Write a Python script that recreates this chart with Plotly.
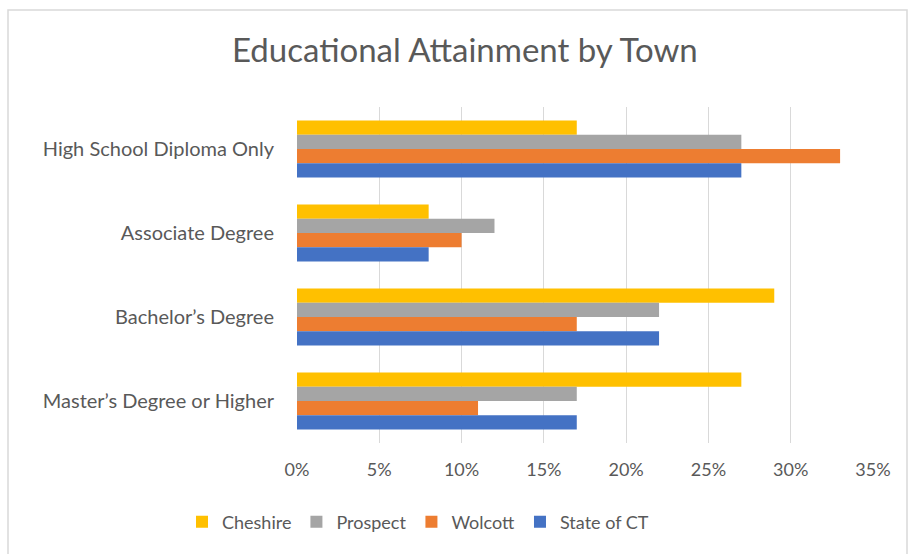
import plotly.graph_objects as go

# Educational attainment shares (percent) by town
categories = ["High School Diploma Only", "Associate Degree", "Bachelor\u2019s Degree", "Master\u2019s Degree or Higher"]
series_names = ["Cheshire", "Prospect", "Wolcott", "State of CT"]
cheshire = [17, 8, 29, 27]
prospect = [27, 12, 22, 17]
wolcott = [33, 10, 17, 11]
state_ct = [27, 8, 22, 17]
colors = ["#FFC000", "#A5A5A5", "#ED7D31", "#4472C4"]
tick_vals = [0, 5, 10, 15, 20, 25, 30, 35]
tick_text = ["0%", "5%", "10%", "15%", "20%", "25%", "30%", "35%"]

FONT = "Lato, 'Open Sans', sans-serif"
TEXT_COLOR = "#595959"

fig = go.Figure()
for name, vals, col in zip(series_names, [cheshire, prospect, wolcott, state_ct], colors):
    fig.add_trace(go.Bar(
        y=categories, x=[v / 100 for v in vals], name=name, orientation="h",
        marker=dict(color=col, line=dict(width=0)),
        hovertemplate="%{y}: %{x:.0%}<extra>" + name + "</extra>",
    ))

fig.update_layout(
    width=908, height=554,
    margin=dict(l=297, r=35, t=107, b=111),
    paper_bgcolor="white", plot_bgcolor="white",
    barmode="group", bargap=0.32, bargroupgap=0,
    font=dict(family=FONT, color=TEXT_COLOR, size=18),
    title=dict(text="Educational Attainment by Town", x=0.512, xanchor="center",
               y=1 - 50 / 554, yanchor="middle", xref="container", yref="container",
               font=dict(size=33, color=TEXT_COLOR, family=FONT)),
    xaxis=dict(range=[0, 0.35], tickvals=[v / 100 for v in tick_vals], ticktext=tick_text,
               showgrid=True, gridcolor="#D9D9D9", gridwidth=1, zeroline=False,
               showline=False, ticks="", tickfont=dict(size=18, color=TEXT_COLOR),
               ticklabelstandoff=14),
    yaxis=dict(autorange="reversed", showgrid=False, zeroline=False, showline=False,
               ticks="", tickfont=dict(size=20, color=TEXT_COLOR), ticklabelstandoff=22),
    legend=dict(orientation="h", x=(418 - 297) / 576, xanchor="center",
                y=(443 - 522) / 336, yanchor="middle", traceorder="normal",
                font=dict(size=18, color=TEXT_COLOR), itemwidth=30,
                bgcolor="rgba(0,0,0,0)"),
    showlegend=True,
)

# Light chart-area frame along the top and left
fig.add_shape(type="rect", xref="paper", yref="paper",
              x0=(8 - 297) / 576, x1=(907 - 297) / 576,
              y0=(443 - 560) / 336, y1=(443 - 10) / 336,
              line=dict(color="#D9D9D9", width=1.5), fillcolor="rgba(0,0,0,0)", layer="below")

fig.write_html("out.html")
